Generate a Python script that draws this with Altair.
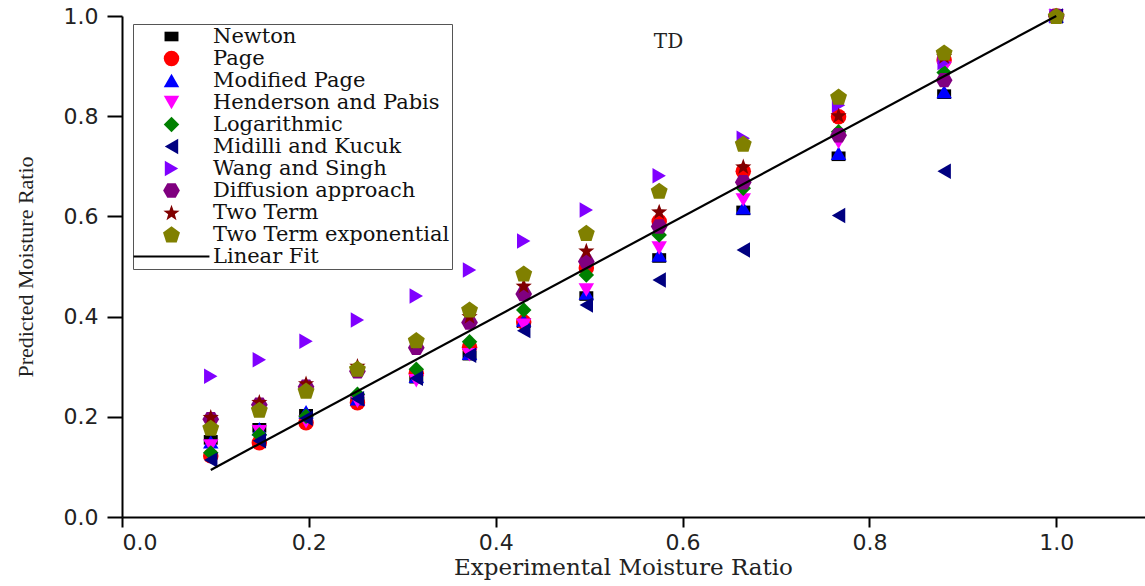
import math
import altair as alt
import pandas as pd

# ---------------- data ----------------
x_exp = [0.095, 0.147, 0.197, 0.252, 0.315, 0.372, 0.430, 0.497, 0.575, 0.665, 0.767, 0.880, 1.000]

newton      = [0.154, 0.178, 0.206, 0.231, 0.276, 0.322, 0.387, 0.441, 0.517, 0.612, 0.720, 0.844, 1.0]
page        = [0.122, 0.148, 0.188, 0.228, 0.287, 0.339, 0.389, 0.497, 0.590, 0.690, 0.799, 0.912, 1.0]
mod_page    = [0.150, 0.176, 0.210, 0.236, 0.281, 0.327, 0.393, 0.447, 0.523, 0.617, 0.726, 0.849, 1.0]
henderson   = [0.142, 0.170, 0.190, 0.231, 0.272, 0.324, 0.383, 0.453, 0.537, 0.633, 0.748, 0.896, 1.0]
logarithmic = [0.128, 0.164, 0.201, 0.245, 0.295, 0.350, 0.413, 0.483, 0.563, 0.656, 0.769, 0.887, 1.0]
midilli     = [0.114, 0.152, 0.197, 0.236, 0.277, 0.323, 0.372, 0.423, 0.473, 0.533, 0.602, 0.690, 1.0]
wang        = [0.281, 0.314, 0.351, 0.393, 0.441, 0.493, 0.551, 0.613, 0.681, 0.756, 0.822, 0.907, 1.0]
diffusion   = [0.195, 0.224, 0.260, 0.291, 0.338, 0.388, 0.445, 0.510, 0.580, 0.668, 0.762, 0.872, 1.0]
two_term    = [0.200, 0.230, 0.267, 0.302, 0.350, 0.401, 0.462, 0.532, 0.610, 0.700, 0.802, 0.920, 1.0]
two_term_ex = [0.178, 0.214, 0.252, 0.296, 0.353, 0.414, 0.486, 0.567, 0.651, 0.745, 0.839, 0.927, 1.0]

series_names = ["Newton", "Page", "Modified Page", "Henderson and Pabis", "Logarithmic",
                "Midilli and Kucuk", "Wang and Singh", "Diffusion approach", "Two Term",
                "Two Term exponential"]
series_values = [newton, page, mod_page, henderson, logarithmic, midilli, wang,
                 diffusion, two_term, two_term_ex]
fit_name = "Linear Fit"

fit_x = [0.095, 1.0]
fit_y = [0.094, 1.0]

x_ticks = [0.0, 0.2, 0.4, 0.6, 0.8, 1.0]
y_ticks = [0.0, 0.2, 0.4, 0.6, 0.8, 1.0]

annot_text = ["TD"]
annot_x = [0.585]
annot_y = [0.948]

# ---------------- styling ----------------
colors = ["#000000", "#FF0000", "#0000FF", "#FF00FF", "#008000", "#000080",
          "#8000FF", "#800080", "#800000", "#808000", "#000000"]


def poly_path(points):
    return "M" + "L".join(f"{px:.3f},{py:.3f}" for px, py in points) + "Z"


def star_path(r_out=1.1, r_in=0.45):
    pts = []
    for i in range(10):
        a = math.radians(-90 + 36 * i)
        r = r_out if i % 2 == 0 else r_in
        pts.append((r * math.cos(a), r * math.sin(a) + 0.1))
    return poly_path(pts)


def regular_path(n, r, start_deg, dy=0.0):
    pts = []
    for i in range(n):
        a = math.radians(start_deg + 360 / n * i)
        pts.append((r * math.cos(a), r * math.sin(a) + dy))
    return poly_path(pts)


pentagon = regular_path(5, 1.15, -90, 0.1)
hexagon = regular_path(6, 1.08, 0)
star = star_path()
rect = "M-0.9,-0.62H0.9V0.62H-0.9Z"
fit_symbol = "M-4.9,-0.12H4.9V0.12H-4.9Z"

shapes = [rect, "circle", "triangle-up", "triangle-down", "diamond", "triangle-left",
          "triangle-right", hexagon, star, pentagon, fit_symbol]

legend_domain = series_names + [fit_name]

rows = []
for name, vals in zip(series_names, series_values):
    for xv, yv in zip(x_exp, vals):
        rows.append({"series": name, "x": xv, "y": yv})
df = pd.DataFrame(rows)

fit_df = pd.DataFrame({"x": fit_x, "y": fit_y})
annot_df = pd.DataFrame({"x": annot_x, "y": annot_y, "t": annot_text})

leg = alt.Legend(
    title=None, orient="none", legendX=11, legendY=8,
    padding=2, symbolOffset=26, labelOffset=31, symbolSize=240,
    labelFont="DejaVu Serif", labelFontSize=21, labelColor="#111",
    rowPadding=0, strokeColor="#555555", fillColor="white",
    symbolStrokeWidth=0, labelLimit=600,
)

x_scale = alt.Scale(domain=[0, 1.095], nice=False, zero=False)
y_scale = alt.Scale(domain=[0, 1.0], nice=False, zero=False)

x_axis = alt.Axis(values=x_ticks, format=".1f", title="Experimental Moisture Ratio",
                  tickSize=10, labelPadding=5, titlePadding=3, grid=False,
                  titleFont="DejaVu Serif", titleFontSize=23, titleX=501)
y_axis = alt.Axis(values=y_ticks, format=".1f", title="Predicted Moisture Ratio",
                  tickSize=15, labelPadding=9, titlePadding=26, grid=False,
                  titleFont="Liberation Serif", titleFontSize=22)

points = alt.Chart(df).mark_point(filled=True, opacity=1, size=240, clip=False).encode(
    x=alt.X("x:Q", scale=x_scale, axis=x_axis),
    y=alt.Y("y:Q", scale=y_scale, axis=y_axis),
    color=alt.Color("series:N", scale=alt.Scale(domain=legend_domain, range=colors), legend=leg),
    shape=alt.Shape("series:N", scale=alt.Scale(domain=legend_domain, range=shapes), legend=leg),
)

line = alt.Chart(fit_df).mark_line(color="black", strokeWidth=2.2).encode(
    x=alt.X("x:Q", scale=x_scale),
    y=alt.Y("y:Q", scale=y_scale),
)

text = alt.Chart(annot_df).mark_text(font="DejaVu Serif", fontSize=20, color="#222").encode(
    x=alt.X("x:Q", scale=x_scale),
    y=alt.Y("y:Q", scale=y_scale),
    text="t:N",
)

chart = alt.layer(points, line, text).properties(
    width=1023, height=501,
    padding={"left": 122, "top": 16, "right": 0, "bottom": 69},
    autosize=alt.AutoSizeParams(type="none"),
    background="white",
).configure_view(stroke=None).configure_axis(
    domainColor="black", domainWidth=2, tickColor="black", tickWidth=2,
    labelFont="DejaVu Sans", labelFontSize=22, labelColor="#222",
    titleFontWeight="normal", titleColor="#222",
)

chart.save("out.html", embed_options={"renderer": "svg", "actions": False})
